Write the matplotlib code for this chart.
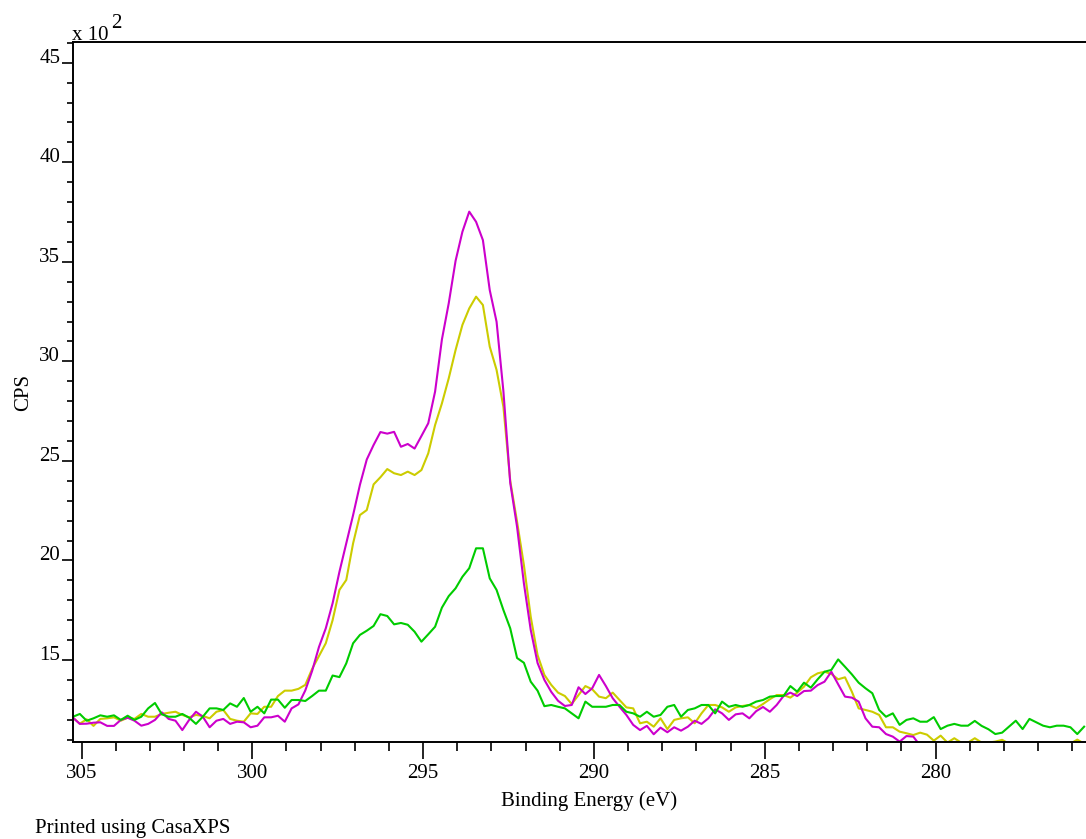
import numpy as np
import matplotlib.pyplot as plt
from matplotlib.ticker import MultipleLocator

# binding energy grid, 0.2 eV steps from the left edge
energy = 305.25 - 0.2 * np.arange(149)

# counts, in units of 10^2 CPS
cps_magenta = [
    12.10, 11.79, 11.80, 11.85, 11.87, 11.69, 11.69, 11.99, 12.10, 11.95,
    11.70, 11.79, 11.99, 12.37, 12.04, 11.95, 11.48, 11.99, 12.40, 12.15,
    11.62, 11.95, 12.04, 11.79, 11.90, 11.87, 11.62, 11.70, 12.12, 12.12,
    12.20, 11.90, 12.57, 12.77, 13.47, 14.45, 15.65, 16.59, 17.85, 19.43,
    20.86, 22.28, 23.80, 25.07, 25.80, 26.45, 26.37, 26.46, 25.71, 25.85,
    25.62, 26.25, 26.89, 28.48, 31.10, 32.92, 35.05, 36.51, 37.52, 37.01,
    36.09, 33.58, 31.99, 28.50, 23.90, 21.69, 18.85, 16.51, 14.85, 14.00,
    13.40, 12.95, 12.69, 12.74, 13.63, 13.29, 13.58, 14.25, 13.69, 13.08,
    12.65, 12.24, 11.74, 11.48, 11.69, 11.27, 11.60, 11.37, 11.62, 11.45,
    11.65, 11.95, 11.79, 12.07, 12.52, 12.32, 11.99, 12.27, 12.32, 12.07,
    12.43, 12.64, 12.40, 12.74, 13.19, 13.36, 13.19, 13.44, 13.46, 13.74,
    13.91, 14.41, 13.78, 13.16, 13.11, 12.91, 12.07, 11.65, 11.62, 11.28,
    11.15, 10.90, 11.18, 11.15, 10.70, 10.60]

cps_yellow = [
    12.10, 11.80, 12.02, 11.69, 12.04, 12.07, 12.12, 11.95, 12.10, 12.04,
    12.29, 12.15, 12.15, 12.29, 12.35, 12.40, 12.24, 12.12, 12.24, 12.19,
    12.07, 12.40, 12.49, 12.04, 11.95, 11.90, 12.32, 12.29, 12.65, 12.65,
    13.19, 13.46, 13.46, 13.55, 13.75, 14.55, 15.20, 15.84, 17.00, 18.52,
    19.02, 20.86, 22.28, 22.53, 23.82, 24.18, 24.59, 24.38, 24.29, 24.46,
    24.29, 24.54, 25.38, 26.80, 27.89, 29.15, 30.57, 31.83, 32.66, 33.25,
    32.83, 30.74, 29.57, 27.72, 24.00, 21.95, 19.77, 17.17, 15.25, 14.25,
    13.75, 13.36, 13.19, 12.79, 13.24, 13.69, 13.53, 13.16, 13.08, 13.36,
    12.99, 12.62, 12.57, 11.82, 11.90, 11.65, 12.07, 11.53, 11.99, 12.07,
    12.12, 11.82, 12.32, 12.74, 12.74, 12.62, 12.40, 12.62, 12.69, 12.74,
    12.58, 12.79, 13.03, 13.24, 13.24, 13.11, 13.36, 13.66, 14.13, 14.33,
    14.41, 14.30, 14.03, 14.13, 13.41, 12.57, 12.49, 12.40, 12.24, 11.62,
    11.62, 11.40, 11.32, 11.23, 11.35, 11.25, 10.95, 11.20, 10.85, 11.07,
    10.85, 10.85, 11.07, 10.85, 10.85, 10.90, 10.99, 10.80, 10.80, 10.75,
    10.80, 10.75, 10.80, 10.75, 10.80, 10.75, 10.80, 11.00, 10.80]

cps_green = [
    12.15, 12.29, 11.95, 12.07, 12.22, 12.15, 12.22, 11.99, 12.20, 11.99,
    12.15, 12.57, 12.84, 12.27, 12.15, 12.15, 12.29, 12.10, 11.79, 12.15,
    12.57, 12.57, 12.49, 12.82, 12.65, 13.09, 12.40, 12.65, 12.32, 13.01,
    13.01, 12.60, 12.99, 12.99, 12.94, 13.19, 13.46, 13.46, 14.22, 14.14,
    14.83, 15.84, 16.26, 16.47, 16.71, 17.30, 17.21, 16.79, 16.86, 16.77,
    16.42, 15.92, 16.29, 16.67, 17.63, 18.21, 18.60, 19.18, 19.61, 20.61,
    20.61, 19.10, 18.52, 17.51, 16.59, 15.10, 14.86, 13.91, 13.46, 12.68,
    12.74, 12.65, 12.57, 12.32, 12.07, 12.91, 12.65, 12.65, 12.65, 12.74,
    12.74, 12.40, 12.32, 12.15, 12.40, 12.15, 12.24, 12.65, 12.74, 12.15,
    12.49, 12.57, 12.74, 12.74, 12.32, 12.91, 12.65, 12.74, 12.65, 12.74,
    12.91, 12.99, 13.16, 13.19, 13.19, 13.69, 13.41, 13.86, 13.61, 14.03,
    14.41, 14.50, 15.03, 14.66, 14.28, 13.86, 13.58, 13.33, 12.49, 12.15,
    12.32, 11.74, 11.99, 12.07, 11.90, 11.90, 12.13, 11.53, 11.70, 11.79,
    11.70, 11.70, 11.94, 11.69, 11.52, 11.28, 11.35, 11.65, 11.95, 11.53,
    12.04, 11.87, 11.70, 11.62, 11.70, 11.70, 11.62, 11.28, 11.65]

x_major = [305, 300, 295, 290, 285, 280]

plt.rcParams['font.family'] = ['Liberation Serif', 'DejaVu Serif']
fs = 15

fig = plt.figure(figsize=(10.86, 8.39), dpi=100)
# axes run past the right edge of the page, as in the print
ax = fig.add_axes([0.0669, 0.1156, 0.9518, 0.8343])

ax.plot(energy, cps_yellow, color='#cccc00', lw=1.5)
ax.plot(energy[:len(cps_magenta)], cps_magenta, color='#cc00cc', lw=1.5)
ax.plot(energy, cps_green, color='#00cc00', lw=1.5)

ax.set_xlim(305.26, 275.0)
ax.set_ylim(10.88, 46.04)

ax.set_xticks(x_major)
ax.xaxis.set_minor_locator(MultipleLocator(1))
ax.yaxis.set_major_locator(MultipleLocator(5))
ax.yaxis.set_minor_locator(MultipleLocator(1))

for s in ax.spines.values():
    s.set_linewidth(1.4)
ax.spines['right'].set_visible(False)

ax.tick_params(axis='x', which='major', direction='out', length=12, width=1.2,
               pad=4, labelsize=fs)
ax.tick_params(axis='x', which='minor', direction='out', length=6.5, width=1.2)
ax.tick_params(axis='y', which='major', direction='out', length=8, width=1.2,
               pad=1, labelsize=fs)
ax.tick_params(axis='y', which='minor', direction='out', length=4.5, width=1.2)
for lab in ax.get_yticklabels():
    lab.set_verticalalignment('baseline')

ax.set_xlabel('Binding Energy (eV)', fontsize=fs, labelpad=6)
ax.set_ylabel('CPS', fontsize=fs, labelpad=4)

fig.text(72 / 1086, 1 - 40 / 839, 'x 10', fontsize=fs, va='baseline', ha='left')
fig.text(111 / 1086, 1 - 28 / 839, '2', fontsize=fs, va='baseline', ha='left')
fig.text(35 / 1086, 1 - 833 / 839, 'Printed using CasaXPS', fontsize=fs,
         va='baseline', ha='left')

fig.savefig('out.png', dpi=100)
